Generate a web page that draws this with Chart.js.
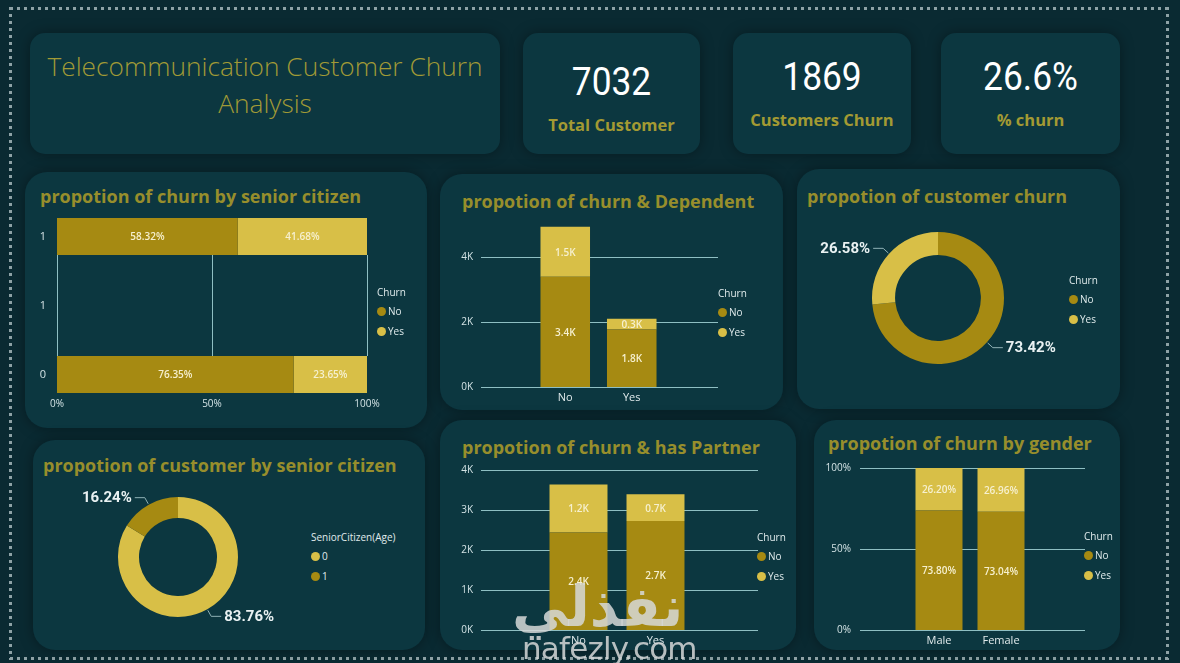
<!DOCTYPE html>
<html>
<head>
<meta charset="utf-8">
<script src="https://cdn.jsdelivr.net/npm/chart.js@4.4.1/dist/chart.umd.min.js"></script>
<style>
  html, body { margin: 0; padding: 0; }
  body { width: 1180px; height: 663px; overflow: hidden; background: #0a2a32; position: relative; font-family: 'Open Sans', sans-serif; }
  .panel { position: absolute; background: #0c3740; border-radius: 22px; box-shadow: 0 0 14px rgba(0,0,0,0.35); }
  .card { border-radius: 15px; }
  .ptitle { position: absolute; font: 700 18px 'Open Sans', sans-serif; color: #978e2c; white-space: nowrap; line-height: 24px; }
  .box { position: absolute; }
  .legend { position: absolute; font: 10px 'Open Sans', sans-serif; color: #e0ebec; line-height: 20px; }
  .legend .t { line-height: 14px; margin-bottom: 2px; }
  .legend .dot { display: inline-block; width: 9px; height: 9px; border-radius: 50%; vertical-align: -1px; margin-right: 2px; }
  .kpi-num { position: absolute; left: 0; right: 0; text-align: center; font: 400 38px Roboto, sans-serif; color: #ffffff; transform: scaleX(0.93); }
  .kpi-lbl { position: absolute; left: 0; right: 0; text-align: center; font: 700 16.5px 'Open Sans', sans-serif; color: #a39a33; }
  .dots-h { position: absolute; height: 3px; background: repeating-linear-gradient(90deg, #8ea2a6 0 3px, transparent 3px 7px); }
  .dots-v { position: absolute; width: 3px; background: repeating-linear-gradient(180deg, #8ea2a6 0 3px, transparent 3px 7px); }
</style>
</head>
<body>

<div class="dots-h" style="left:10px; top:7px; width:1160px;"></div>
<div class="dots-h" style="left:10px; top:657px; width:1160px;"></div>
<div class="dots-v" style="left:9px; top:7px; height:653px;"></div>
<div class="dots-v" style="left:1166px; top:7px; height:653px;"></div>

<!-- header -->
<div class="panel card" style="left:30px; top:33px; width:470px; height:121px;">
  <div style="position:absolute; left:0; right:0; top:15px; text-align:center; font:300 26.3px 'Open Sans', sans-serif; color:#a19a36; line-height:37px;">Telecommunication Customer Churn<br>Analysis</div>
</div>
<div class="panel card" style="left:523px; top:33px; width:177px; height:121px;">
  <div class="kpi-num" style="top:27px;">7032</div>
  <div class="kpi-lbl" style="top:80px;">Total Customer</div>
</div>
<div class="panel card" style="left:733px; top:33px; width:178px; height:121px;">
  <div class="kpi-num" style="top:22px;">1869</div>
  <div class="kpi-lbl" style="top:75px;">Customers Churn</div>
</div>
<div class="panel card" style="left:941px; top:33px; width:179px; height:121px;">
  <div class="kpi-num" style="top:22px;">26.6%</div>
  <div class="kpi-lbl" style="top:75px;">% churn</div>
</div>

<!-- panels -->
<div class="panel" style="left:25px; top:172px; width:402px; height:256px;"></div>
<div class="panel" style="left:440px; top:174px; width:343px; height:236px;"></div>
<div class="panel" style="left:797px; top:169px; width:323px; height:240px;"></div>
<div class="panel" style="left:33px; top:440px; width:392px; height:210px;"></div>
<div class="panel" style="left:440px; top:420px; width:356px; height:230px;"></div>
<div class="panel" style="left:814px; top:420px; width:306px; height:230px;"></div>

<div class="ptitle" style="left:40px; top:184px;">propotion of churn by senior citizen</div>
<div class="ptitle" style="left:462px; top:189px;">propotion of churn &amp; Dependent</div>
<div class="ptitle" style="left:807px; top:184px;">propotion of customer churn</div>
<div class="ptitle" style="left:43px; top:453px;">propotion of customer by senior citizen</div>
<div class="ptitle" style="left:462px; top:435px;">propotion of churn &amp; has Partner</div>
<div class="ptitle" style="left:828px; top:431px;">propotion of churn by gender</div>

<div class="box" style="left:30px; top:195px; width:350px; height:225px;"><canvas id="seniorChurn"></canvas></div>
<div class="box" style="left:445px; top:212px; width:290px; height:198px;"><canvas id="dependentChurn"></canvas></div>
<div class="box" style="left:805px; top:205px; width:290px; height:186px;"><canvas id="customerChurn"></canvas></div>
<div class="box" style="left:60px; top:480px; width:240px; height:154px;"><canvas id="seniorShare"></canvas></div>
<div class="box" style="left:445px; top:460px; width:320px; height:190px;"><canvas id="partnerChurn"></canvas></div>
<div class="box" style="left:815px; top:458px; width:285px; height:192px;"><canvas id="genderChurn"></canvas></div>

<div class="legend" id="lg1" style="left:377px; top:285px;"></div>
<div class="legend" id="lg2" style="left:718px; top:286px;"></div>
<div class="legend" id="lg3" style="left:1069px; top:273px;"></div>
<div class="legend" id="lg4" style="left:311px; top:530px;"></div>
<div class="legend" id="lg5" style="left:757px; top:530px;"></div>
<div class="legend" id="lg6" style="left:1084px; top:529px;"></div>

<!-- watermark -->
<div style="position:absolute; left:512px; top:574px; font:700 56px 'DejaVu Sans', sans-serif; color:rgba(214,216,216,0.85); direction:rtl;">نفذلي</div>
<div style="position:absolute; left:522px; top:630px; font:400 31px 'DejaVu Sans', sans-serif; color:rgba(214,216,216,0.85); letter-spacing:-0.8px;">nafezly.com</div>

<script>
// churn by senior citizen (percent of row)
const seniorCats = ['1', '1', '0'];
const seniorNo = [58.32, null, 76.35];
const seniorYes = [41.68, null, 23.65];
const seniorTicks = [0, 50, 100];

// churn & dependents (customers)
const dependentCats = ['No', 'Yes'];
const dependentNo = [3390, 1773];
const dependentYes = [1543, 326];
const dependentTicks = [0, 2000, 4000];

// overall churn share
const churnLabels = ['No', 'Yes'];
const churnShare = [73.42, 26.58];

// customers by senior citizen
const ageLabels = ['0', '1'];
const ageShare = [83.76, 16.24];

// churn & partner (customers)
const partnerCats = ['No', 'Yes'];
const partnerNo = [2439, 2724];
const partnerYes = [1200, 669];
const partnerTicks = [0, 1000, 2000, 3000, 4000];

// churn by gender (percent)
const genderCats = ['Male', 'Female'];
const genderNo = [73.80, 73.04];
const genderYes = [26.20, 26.96];
const genderTicks = [0, 50, 100];

const DARK = '#a68a12';
const LIGHT = '#d8bf47';
const GRID = '#8fbfc3';
const TICK = '#d3e3e5';

function fillLegend(id, title, names, colors) {
  let html = '<div class="t">' + title + '</div>';
  names.forEach((n, i) => {
    html += '<div><span class="dot" style="background:' + colors[i] + '"></span>' + n + '</div>';
  });
  document.getElementById(id).innerHTML = html;
}
fillLegend('lg1', 'Churn', ['No', 'Yes'], [DARK, LIGHT]);
fillLegend('lg2', 'Churn', ['No', 'Yes'], [DARK, LIGHT]);
fillLegend('lg3', 'Churn', ['No', 'Yes'], [DARK, LIGHT]);
fillLegend('lg4', 'SeniorCitizen(Age)', ageLabels, [LIGHT, DARK]);
fillLegend('lg5', 'Churn', ['No', 'Yes'], [DARK, LIGHT]);
fillLegend('lg6', 'Churn', ['No', 'Yes'], [DARK, LIGHT]);

// fixed axis size, no extra label padding around the plot
function fixAxis(size) {
  return s => {
    if (s.isHorizontal()) s.height = size; else s.width = size;
    s.paddingTop = 0; s.paddingBottom = 0; s.paddingLeft = 0; s.paddingRight = 0;
  };
}
function useTicks(values) {
  return s => { s.ticks = values.map(v => ({ value: v })); };
}

// values written in the middle of each bar segment
const barLabels = {
  id: 'barLabels',
  afterDatasetsDraw(chart, args, opts) {
    const ctx = chart.ctx;
    ctx.save();
    ctx.font = '600 10px "Open Sans", sans-serif';
    ctx.fillStyle = '#f6f0cf';
    ctx.textAlign = 'center';
    ctx.textBaseline = 'middle';
    chart.data.datasets.forEach((ds, di) => {
      chart.getDatasetMeta(di).data.forEach((el, i) => {
        const v = ds.data[i];
        if (v === null || v === undefined) return;
        const p = el.getCenterPoint();
        ctx.fillText(opts.format(v), p.x, p.y + 1);
      });
    });
    ctx.restore();
  }
};

// gridlines drawn behind the bars, over a span wider than the plot
const guides = {
  id: 'guides',
  beforeDatasetsDraw(chart, args, opts) {
    const ctx = chart.ctx;
    ctx.save();
    ctx.strokeStyle = GRID;
    ctx.lineWidth = 1;
    if (opts.axis === 'x') {
      const rows = chart.getDatasetMeta(0).data;
      const first = rows[0], last = rows[rows.length - 1];
      const y0 = first.y + first.height / 2, y1 = last.y - last.height / 2;
      const xs = chart.scales.x;
      xs.ticks.forEach(t => {
        const x = Math.round(xs.getPixelForValue(t.value)) + 0.5;
        ctx.beginPath(); ctx.moveTo(x, y0); ctx.lineTo(x, y1); ctx.stroke();
      });
      // x tick labels sit inside the lower band of the plot
      ctx.fillStyle = TICK;
      ctx.font = '10px "Open Sans", sans-serif';
      ctx.textAlign = 'center';
      ctx.textBaseline = 'middle';
      xs.ticks.forEach(t => {
        ctx.fillText(t.value + '%', xs.getPixelForValue(t.value), chart.chartArea.bottom - 5);
      });
    } else {
      const ys = chart.scales.y;
      ys.ticks.forEach(t => {
        const y = Math.round(ys.getPixelForValue(t.value)) + 0.5;
        ctx.beginPath(); ctx.moveTo(opts.from, y); ctx.lineTo(opts.to, y); ctx.stroke();
      });
    }
    ctx.restore();
  }
};

// callout labels with leader lines for the donuts
const callouts = {
  id: 'callouts',
  afterDraw(chart) {
    const ctx = chart.ctx;
    const data = chart.data.datasets[0].data;
    ctx.save();
    ctx.font = '700 15px Roboto, sans-serif';
    ctx.fillStyle = '#e9f1f2';
    ctx.strokeStyle = '#8fb1b5';
    ctx.lineWidth = 1;
    ctx.textBaseline = 'middle';
    chart.getDatasetMeta(0).data.forEach((arc, i) => {
      const mid = (arc.startAngle + arc.endAngle) / 2;
      const r = arc.outerRadius;
      const cos = Math.cos(mid), sin = Math.sin(mid);
      const sx = arc.x + cos * (r + 1), sy = arc.y + sin * (r + 1);
      const ex = arc.x + cos * (r + 8), ey = arc.y + sin * (r + 8);
      const dir = cos >= 0 ? 1 : -1;
      const hx = ex + dir * 10;
      ctx.beginPath(); ctx.moveTo(sx, sy); ctx.lineTo(ex, ey); ctx.lineTo(hx, ey); ctx.stroke();
      ctx.textAlign = dir > 0 ? 'left' : 'right';
      ctx.fillText(data[i].toFixed(2) + '%', hx + dir * 3, ey + 1);
    });
    ctx.restore();
  }
};

const kFormat = v => (v / 1000).toFixed(1) + 'K';
const pctFormat = v => v.toFixed(2) + '%';

function stackedColumns(id, cats, no, yes, opt) {
  return new Chart(document.getElementById(id), {
    type: 'bar',
    data: {
      labels: cats,
      datasets: [
        { label: 'No', data: no, backgroundColor: DARK, barPercentage: opt.bar, categoryPercentage: 1 },
        { label: 'Yes', data: yes, backgroundColor: LIGHT, barPercentage: opt.bar, categoryPercentage: 1 }
      ]
    },
    options: {
      responsive: true,
      maintainAspectRatio: false,
      animation: false,
      layout: { padding: { top: opt.top, right: opt.right, left: 0, bottom: 0 } },
      scales: {
        x: {
          stacked: true,
          grid: { display: false, drawTicks: false },
          border: { display: false },
          ticks: { color: '#e0eaeb', font: { family: 'Open Sans', size: 11 }, padding: 4 },
          afterFit: fixAxis(opt.xh)
        },
        y: {
          stacked: true,
          min: 0,
          max: opt.max,
          grid: { display: false, drawTicks: false },
          border: { display: false },
          ticks: { color: TICK, font: { family: 'Open Sans', size: 10 }, padding: opt.pad, callback: opt.tick },
          afterBuildTicks: useTicks(opt.ticks),
          afterFit: fixAxis(opt.yw)
        }
      },
      plugins: {
        legend: { display: false },
        tooltip: { enabled: false },
        guides: { axis: 'y', from: opt.from, to: opt.to },
        barLabels: { format: opt.format }
      }
    },
    plugins: [guides, barLabels]
  });
}

// horizontal 100% bars
new Chart(document.getElementById('seniorChurn'), {
  type: 'bar',
  data: {
    labels: seniorCats,
    datasets: [
      { label: 'No', data: seniorNo, backgroundColor: DARK, barPercentage: 0.536, categoryPercentage: 1 },
      { label: 'Yes', data: seniorYes, backgroundColor: LIGHT, barPercentage: 0.536, categoryPercentage: 1 }
    ]
  },
  options: {
    indexAxis: 'y',
    responsive: true,
    maintainAspectRatio: false,
    animation: false,
    layout: { padding: { top: 7, right: 13, left: 0, bottom: 0 } },
    scales: {
      x: {
        stacked: true,
        min: 0,
        max: 100,
        grid: { display: false, drawTicks: false },
        border: { display: false },
        ticks: { display: false },
        afterBuildTicks: useTicks(seniorTicks),
        afterFit: fixAxis(11)
      },
      y: {
        stacked: true,
        grid: { display: false, drawTicks: false },
        border: { display: false },
        ticks: { color: TICK, font: { family: 'Open Sans', size: 11 }, padding: 11 },
        afterFit: fixAxis(27)
      }
    },
    plugins: {
      legend: { display: false },
      tooltip: { enabled: false },
      guides: { axis: 'x' },
      barLabels: { format: pctFormat }
    }
  },
  plugins: [guides, barLabels]
});

stackedColumns('dependentChurn', dependentCats, dependentNo, dependentYes, {
  bar: 0.745, top: 12.5, right: 70, xh: 23, yw: 87, pad: 59, max: 5000, ticks: dependentTicks,
  tick: v => (v / 1000) + 'K', from: 36, to: 273, format: kFormat
});

stackedColumns('partnerChurn', partnerCats, partnerNo, partnerYes, {
  bar: 0.753, top: 10, right: 71, xh: 20, yw: 95, pad: 67, max: 4000, ticks: partnerTicks,
  tick: v => (v / 1000) + 'K', from: 36, to: 313, format: kFormat
});

stackedColumns('genderChurn', genderCats, genderNo, genderYes, {
  bar: 0.758, top: 10, right: 68, xh: 20, yw: 93, pad: 57, max: 100, ticks: genderTicks,
  tick: v => v + '%', from: 45, to: 270, format: pctFormat
});

function donut(id, labels, values, colors, opt) {
  return new Chart(document.getElementById(id), {
    type: 'doughnut',
    data: { labels: labels, datasets: [{ data: values, backgroundColor: colors, borderWidth: 0 }] },
    options: {
      responsive: true,
      maintainAspectRatio: false,
      animation: false,
      radius: opt.r,
      cutout: '65%',
      layout: { padding: { left: 0, right: opt.right, top: 0, bottom: 0 } },
      plugins: { legend: { display: false }, tooltip: { enabled: false } }
    },
    plugins: [callouts]
  });
}

donut('customerChurn', churnLabels, churnShare, [DARK, LIGHT], { r: 66, right: 24 });
donut('seniorShare', ageLabels, ageShare, [LIGHT, DARK], { r: 60, right: 4 });
</script>
</body>
</html>
